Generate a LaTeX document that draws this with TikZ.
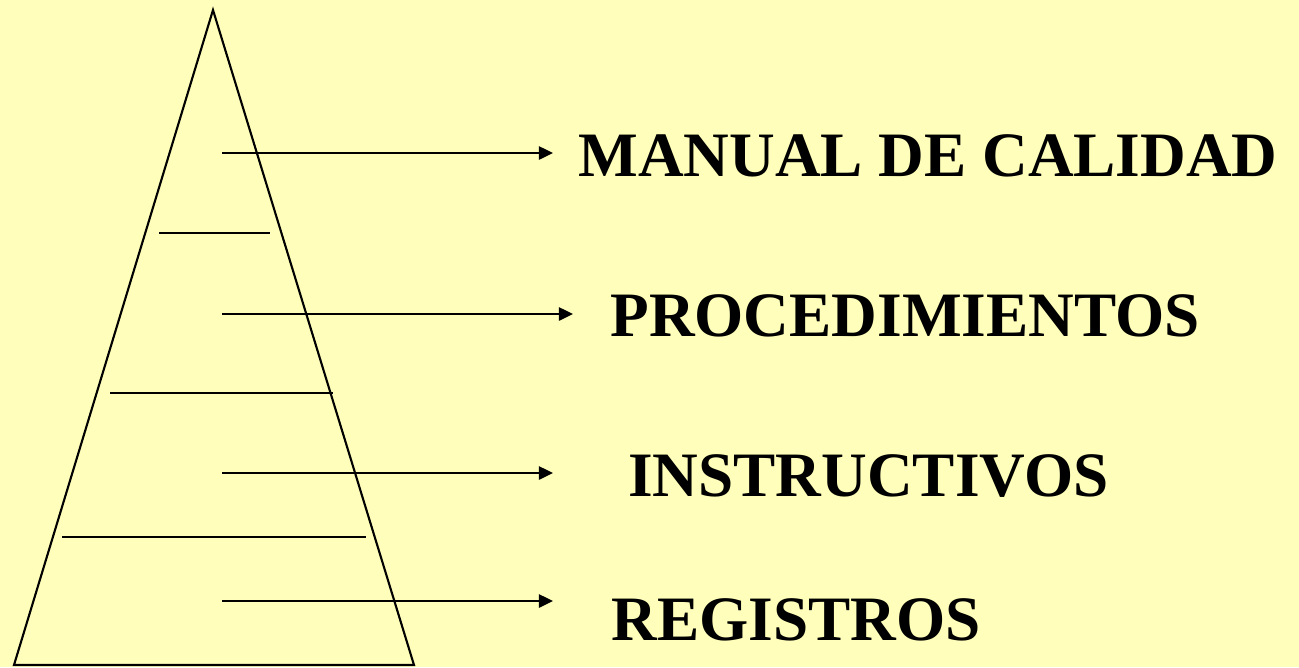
\documentclass[tikz,border=0pt]{standalone}
\usepackage{fontspec}
\setmainfont{Liberation Serif}
\usetikzlibrary{arrows.meta}

\definecolor{bgyellow}{RGB}{255,255,187}

\tikzset{
  edge/.style={draw=black,line width=1.2pt},
  pointer/.style={edge,-{Triangle[length=8pt,width=7.5pt]}},
  level/.style={anchor=base west,inner sep=0pt,font=\fontsize{36}{36}\selectfont\bfseries}
}

\begin{document}
\begin{tikzpicture}[x=0.02cm,y=-0.02cm]

   % background
   \useasboundingbox (0,0) rectangle (1299,667);
   \fill[bgyellow] (0,0) rectangle (1299,667);

   % pyramid corners
   \coordinate (top) at (213,10);
   \coordinate (bl) at (14,665);
   \coordinate (br) at (414,665);

   % dividers
   \coordinate (d1l) at (159,233);
   \coordinate (d1r) at (270,233);
   \coordinate (d2l) at (110,393);
   \coordinate (d2r) at (333,393);
   \coordinate (d3l) at (62,537);
   \coordinate (d3r) at (366,537);

   % arrow ends
   \coordinate (a1) at (222,153);
   \coordinate (b1) at (553,153);
   \coordinate (a2) at (222,314);
   \coordinate (b2) at (573,314);
   \coordinate (a3) at (222,473);
   \coordinate (b3) at (553,473);
   \coordinate (a4) at (222,601);
   \coordinate (b4) at (553,601);

   \draw[edge,line join=miter] (top) -- (br) -- (bl) -- cycle;

   \draw[edge] (d1l) -- (d1r);
   \draw[edge] (d2l) -- (d2r);
   \draw[edge] (d3l) -- (d3r);

   \draw[pointer] (a1) -- (b1);
   \draw[pointer] (a2) -- (b2);
   \draw[pointer] (a3) -- (b3);
   \draw[pointer] (a4) -- (b4);

   \node[level] (manual) at (578,176) {MANUAL DE CALIDAD};
   \node[level] (proced) at (610,336) {PROCEDIMIENTOS};
   \node[level] (instr) at (628,496) {INSTRUCTIVOS};
   \node[level] (regis) at (611,640) {REGISTROS};

\end{tikzpicture}
\end{document}
